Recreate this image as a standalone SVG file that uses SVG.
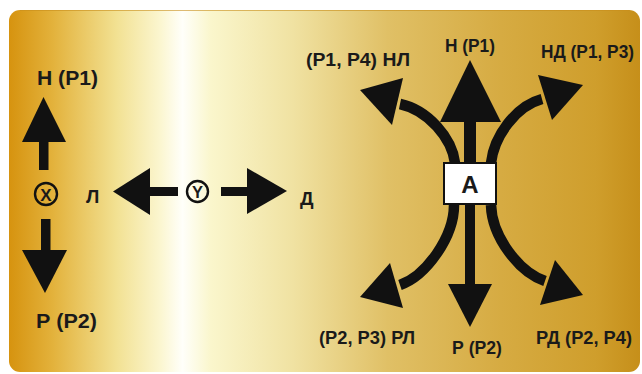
<svg xmlns="http://www.w3.org/2000/svg" width="642" height="374" viewBox="0 0 642 374">
<defs>
<linearGradient id="gold" x1="9" y1="0" x2="640" y2="0" gradientUnits="userSpaceOnUse">
<stop offset="0" stop-color="#d6930f"/>
<stop offset="0.07" stop-color="#e3b23c"/>
<stop offset="0.17" stop-color="#f2e192"/>
<stop offset="0.24" stop-color="#fbf6d0"/>
<stop offset="0.275" stop-color="#fffffa"/>
<stop offset="0.32" stop-color="#faf6cc"/>
<stop offset="0.45" stop-color="#f0e2a2"/>
<stop offset="0.6" stop-color="#e0c066"/>
<stop offset="0.78" stop-color="#d6ab42"/>
<stop offset="0.93" stop-color="#cf9e2c"/>
<stop offset="1" stop-color="#c68f1a"/>
</linearGradient>
<style>
.t{font-family:"Liberation Sans",Arial,sans-serif;font-weight:bold;fill:#1a1a1a}
.h{fill:#111}
.s{fill:none;stroke:#111;stroke-width:10.5}
.c{fill:none;stroke:#111;stroke-width:2.4}
</style>
</defs>
<rect x="0" y="0" width="642" height="374" fill="#ffffff"/>
<g id="background">
<rect x="9" y="10" width="631" height="362" rx="11" fill="url(#gold)"/>
<path d="M20,10.5 H630" stroke="#c98f1c" stroke-width="1" opacity="0.6"/>
</g>

<g id="connectors">
<rect class="h" x="39" y="140" width="9.5" height="30"/>
<polygon class="h" points="43.5,97 22,142 66,142"/>
<rect class="h" x="41" y="219" width="9.5" height="33"/>
<polygon class="h" points="45,293 22,250 67,250"/>
<rect class="h" x="148" y="187" width="30" height="9"/>
<polygon class="h" points="113,191.5 150,168 150,215"/>
<rect class="h" x="221" y="187" width="28" height="9"/>
<polygon class="h" points="287,191 247,168 247,214"/>
<rect class="h" x="464" y="120" width="12" height="43"/>
<polygon class="h" points="470,60 440,122 501,122"/>
<rect class="h" x="465" y="204" width="10" height="82"/>
<polygon class="h" points="470,327 448,284 492,284"/>
<path class="s" d="M455,163 C452,138 428,110 400,104"/>
<polygon class="h" points="360,90 403,78 392,125"/>
<path class="s" d="M491,163 C494,136 516,106 542,99"/>
<polygon class="h" points="583,85 538,75 552,120"/>
<path class="s" d="M454,205 C454,237 426,276 400,285"/>
<polygon class="h" points="360,297 390,263 403,308"/>
<path class="s" d="M491,205 C492,237 519,272 545,281"/>
<polygon class="h" points="583,295 555,260 540,305"/>
</g>

<g id="node-X">
<circle class="c" cx="46" cy="194" r="11"/>
<text class="t" x="46" y="200.5" font-size="17" text-anchor="middle">X</text>
</g>
<g id="node-Y">
<circle class="c" cx="197.5" cy="191.5" r="10.5"/>
<text class="t" x="197.5" y="197.5" font-size="16.5" text-anchor="middle">Y</text>
</g>
<g id="node-A">
<rect x="444" y="163" width="52" height="41" fill="#ffffff" stroke="#111" stroke-width="2"/>
<text class="t" x="470" y="192.5" font-size="24" text-anchor="middle">A</text>
</g>

<g id="labels">
<text class="t" x="37" y="85" font-size="20.5" textLength="61" lengthAdjust="spacingAndGlyphs">Н (Р1)</text>
<text class="t" x="36" y="328" font-size="21" textLength="61" lengthAdjust="spacingAndGlyphs">Р (Р2)</text>
<text class="t" x="86" y="203" font-size="19">Л</text>
<text class="t" x="300" y="205" font-size="19">Д</text>
<text class="t" x="445" y="52" font-size="19" textLength="50" lengthAdjust="spacingAndGlyphs">Н (Р1)</text>
<text class="t" x="541" y="58" font-size="19" textLength="93" lengthAdjust="spacingAndGlyphs">НД (Р1, Р3)</text>
<text class="t" x="306" y="66" font-size="19" textLength="104" lengthAdjust="spacingAndGlyphs">(Р1, Р4)  НЛ</text>
<text class="t" x="319" y="344" font-size="19" textLength="96" lengthAdjust="spacingAndGlyphs">(Р2, Р3) РЛ</text>
<text class="t" x="452" y="354" font-size="19" textLength="50" lengthAdjust="spacingAndGlyphs">Р (Р2)</text>
<text class="t" x="536" y="344" font-size="19" textLength="96" lengthAdjust="spacingAndGlyphs">РД (Р2, Р4)</text>
</g>
</svg>
